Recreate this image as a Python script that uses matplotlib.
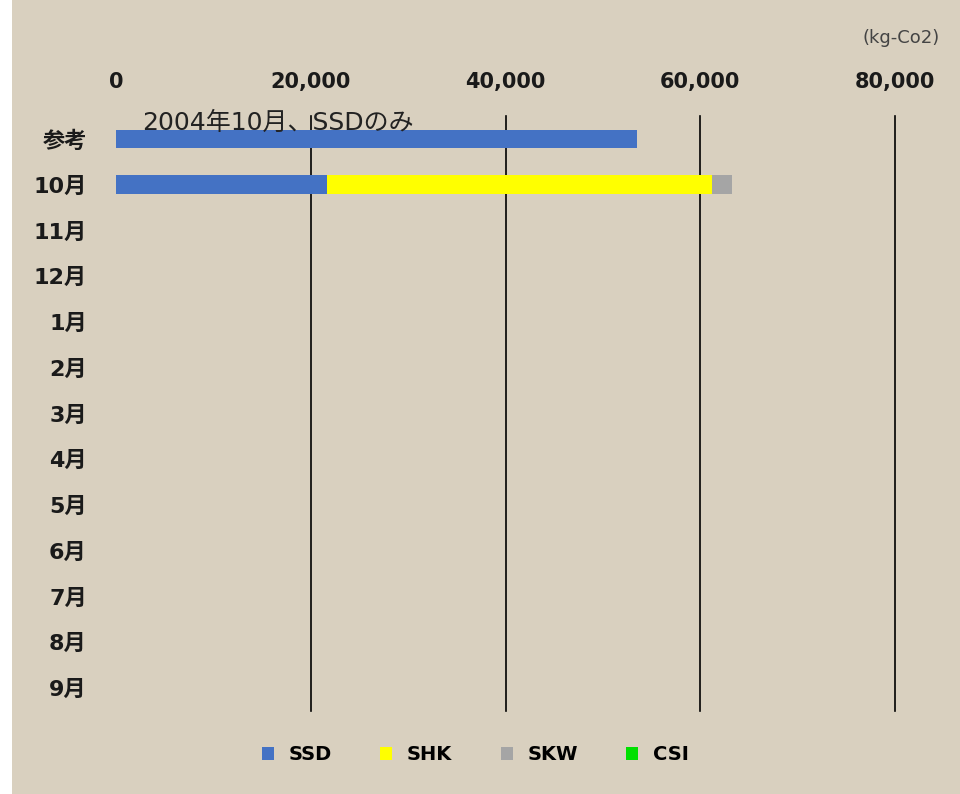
import numpy as np
import matplotlib.pyplot as plt
from matplotlib.patches import Rectangle

plt.rcParams['font.family'] = ['DejaVu Sans', 'Noto Sans CJK JP']

# data (kg-Co2)
months = ['参考', '10月', '11月', '12月', '1月', '2月', '3月', '4月',
          '5月', '6月', '7月', '8月', '9月']
ssd = [53500, 21700, 0, 0, 0, 0, 0, 0, 0, 0, 0, 0, 0]
shk = [0, 39500, 0, 0, 0, 0, 0, 0, 0, 0, 0, 0, 0]
skw = [0, 2100, 0, 0, 0, 0, 0, 0, 0, 0, 0, 0, 0]
csi = [0, 0, 0, 0, 0, 0, 0, 0, 0, 0, 0, 0, 0]
series = ['SSD', 'SHK', 'SKW', 'CSI']
colors = ['#4472C4', '#FFFF00', '#A5A5A5', '#00E000']
xticks = [0, 20000, 40000, 60000, 80000]

fig = plt.figure(figsize=(9.6, 7.94), dpi=100)
fig.patch.set_facecolor('white')
# beige "burlap" panel behind everything
fig.patches.append(Rectangle((12/960, 0), 1, 1, transform=fig.transFigure,
                             facecolor='#d9d0bf', edgecolor='none', zorder=-5))

ax = fig.add_axes([116/960, 1 - 711/794, (895 - 116)/960, (711 - 116)/794])
ax.set_facecolor('none')

y = np.arange(len(months))
left = np.zeros(len(months))
for name, vals, c in zip(series, [ssd, shk, skw, csi], colors):
    ax.barh(y, vals, left=left, height=0.4, color=c, label=name, zorder=3)
    left += np.array(vals)

ax.set_xlim(0, 80000)
ax.set_ylim(len(months) - 0.5, -0.5)
ax.set_xticks(xticks)
ax.set_xticklabels([f'{v:,}' for v in xticks], fontsize=15, fontweight='bold',
                   color='#1a1a1a')
ax.xaxis.tick_top()
ax.tick_params(axis='x', length=0, pad=17)
ax.set_yticks(y)
ax.set_yticklabels(months, fontsize=16, fontweight='bold', color='#1a1a1a')
ax.tick_params(axis='y', length=0, pad=21)
for s in ax.spines.values():
    s.set_visible(False)
for v in xticks[1:]:
    ax.axvline(v, color='black', linewidth=1.2, zorder=2, clip_on=False)

ax.text(2700, -0.08, '2004年10月、SSDのみ', fontsize=18, color='#222222',
        va='bottom', ha='left', zorder=4)
fig.text(940/960, 1 - 38/794, '(kg-Co2)', fontsize=13, color='#444444',
         ha='right', va='center')

leg = fig.legend(loc='center', bbox_to_anchor=(0.495, 1 - 755/794), ncol=4,
                 frameon=False, handlelength=0.62, handleheight=0.62,
                 columnspacing=2.5, handletextpad=0.75,
                 prop={'weight': 'bold', 'size': 14})

fig.savefig('out.png', dpi=100)
